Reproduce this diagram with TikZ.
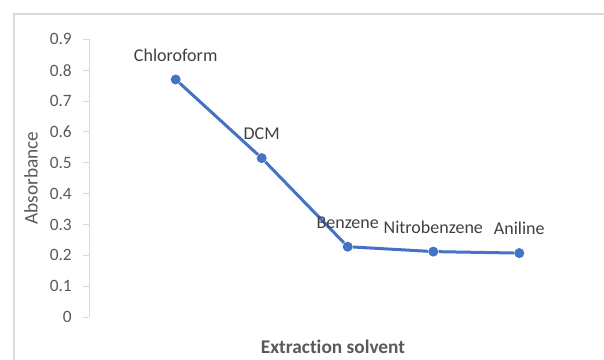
\documentclass[tikz,border=0pt]{standalone}
\usepackage{fontspec}
\setmainfont{Carlito}[Ligatures=NoCommon]
\usetikzlibrary{positioning}
\definecolor{serblue}{HTML}{4472C4}
\definecolor{ticktxt}{HTML}{595959}
\definecolor{axgray}{HTML}{D9D9D9}
\begin{document}
\begin{tikzpicture}[x=0.75pt, y=-0.75pt, node distance=9.5pt,
  every node/.style={font=\fontsize{13}{15}\selectfont, text=ticktxt, inner sep=0pt},
  pt/.style={circle, fill=serblue, minimum size=7.5pt},
  lbl/.style={text=black!75, font=\fontsize{13.5}{15}\selectfont},
  axtitle/.style={font=\fontsize{14.5}{16}\selectfont}]
\useasboundingbox (0,0) rectangle (604,360);
\draw[axgray, line width=1.5pt] (14,360) -- (14,14) -- (604,14);

% value axis
\draw[axgray, line width=0.75pt] (89,39.4) -- (89,317);
\foreach \v/\t in {0/0,1/0.1,2/0.2,3/0.3,4/0.4,5/0.5,6/0.6,7/0.7,8/0.8,9/0.9}{
  \draw[axgray, line width=0.75pt] (83,317-30.85*\v) -- (89,317-30.85*\v);
  \node[anchor=east] (y\v) at (72,317-30.85*\v) {\t};
}
\node[axtitle, rotate=90] (ytitle) at (31,178) {Absorbance};
\node[axtitle] (xtitle) at (333,347) {\bfseries Extraction solvent};

\node[pt] (chl) at (175.7,79.5) {};
\node[pt] (dcm) at (261.7,158.1) {};
\node[pt] (ben) at (347.7,246.7) {};
\node[pt] (nit) at (433.3,251.6) {};
\node[pt] (ani) at (519.3,253.1) {};
\draw[serblue, line width=2.25pt] (chl) -- (dcm) -- (ben) -- (nit) -- (ani);

\node[lbl, above=of chl] (lchl) {Chloroform};
\node[lbl, above=of dcm] (ldcm) {DCM};
\node[lbl, above=of ben] (lben) {Benzene};
\node[lbl, above=of nit] (lnit) {Nitrobenzene};
\node[lbl, above=of ani] (lani) {Aniline};
\end{tikzpicture}
\end{document}
